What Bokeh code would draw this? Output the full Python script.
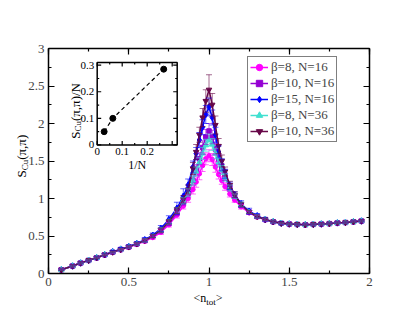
import math
from bokeh.plotting import figure
from bokeh.models import (ColumnDataSource, Whisker, TeeHead, Range1d, LinearAxis,
                          SingleIntervalTicker, Label, Legend, LegendItem,
                          CustomJSTickFormatter)
from bokeh.core.properties import value
from bokeh.embed import file_html
from bokeh.resources import INLINE

# ---------------- data ----------------
n_tot = [0.08, 0.15, 0.2, 0.25, 0.3, 0.35, 0.4, 0.45, 0.5, 0.55, 0.6, 0.65, 0.7, 0.75, 0.8,
         0.84, 0.87, 0.9, 0.92, 0.94, 0.96, 0.98, 1.0, 1.02, 1.04, 1.06, 1.08, 1.1, 1.13, 1.16, 1.2,
         1.25, 1.3, 1.35, 1.4, 1.45, 1.5, 1.55, 1.6, 1.65, 1.7, 1.75, 1.8, 1.85, 1.9, 1.95]

s_b8_n16 = [0.05, 0.10, 0.14, 0.175, 0.21, 0.245, 0.28, 0.315, 0.35, 0.39, 0.43, 0.48, 0.55, 0.65, 0.78,
            0.90, 1.00, 1.12, 1.22, 1.33, 1.44, 1.53, 1.57, 1.52, 1.42, 1.32, 1.24, 1.16, 1.06, 0.98, 0.89,
            0.81, 0.755, 0.715, 0.69, 0.67, 0.66, 0.655, 0.65, 0.655, 0.66, 0.665, 0.675, 0.68, 0.69, 0.70]
s_b10_n16 = [0.05, 0.10, 0.14, 0.175, 0.21, 0.25, 0.285, 0.32, 0.355, 0.395, 0.44, 0.50, 0.57, 0.67, 0.81,
             0.95, 1.07, 1.24, 1.38, 1.53, 1.68, 1.82, 1.90, 1.82, 1.66, 1.52, 1.40, 1.29, 1.14, 1.03, 0.91,
             0.82, 0.76, 0.72, 0.69, 0.67, 0.66, 0.655, 0.65, 0.655, 0.66, 0.665, 0.675, 0.68, 0.69, 0.70]
s_b15_n16 = [0.05, 0.10, 0.14, 0.175, 0.21, 0.25, 0.29, 0.325, 0.36, 0.40, 0.45, 0.51, 0.60, 0.72, 0.87,
             1.03, 1.18, 1.42, 1.60, 1.78, 1.95, 2.12, 2.22, 2.08, 1.85, 1.62, 1.45, 1.33, 1.17, 1.05, 0.93,
             0.83, 0.77, 0.72, 0.69, 0.67, 0.66, 0.655, 0.65, 0.655, 0.66, 0.665, 0.675, 0.68, 0.69, 0.70]
s_b8_n36 = [0.05, 0.10, 0.14, 0.175, 0.21, 0.25, 0.285, 0.32, 0.355, 0.395, 0.44, 0.50, 0.58, 0.69, 0.84,
            0.97, 1.08, 1.24, 1.36, 1.48, 1.60, 1.71, 1.78, 1.72, 1.60, 1.48, 1.38, 1.28, 1.14, 1.03, 0.92,
            0.82, 0.76, 0.72, 0.69, 0.67, 0.66, 0.655, 0.65, 0.655, 0.66, 0.665, 0.675, 0.68, 0.69, 0.70]
s_b10_n36 = [0.05, 0.10, 0.14, 0.175, 0.21, 0.25, 0.285, 0.32, 0.355, 0.395, 0.44, 0.50, 0.58, 0.69, 0.84,
             0.99, 1.12, 1.40, 1.62, 1.85, 2.08, 2.30, 2.45, 2.25, 1.98, 1.70, 1.50, 1.36, 1.18, 1.05, 0.92,
             0.82, 0.76, 0.72, 0.69, 0.67, 0.66, 0.655, 0.65, 0.655, 0.66, 0.665, 0.675, 0.68, 0.69, 0.70]

e_b8_n16 = [0.01, 0.01, 0.01, 0.01, 0.01, 0.01, 0.01, 0.01, 0.015, 0.015, 0.02, 0.02, 0.03, 0.03, 0.04,
            0.04, 0.05, 0.06, 0.07, 0.08, 0.08, 0.08, 0.08, 0.08, 0.07, 0.06, 0.05, 0.05, 0.04, 0.03, 0.03,
            0.02, 0.02, 0.015, 0.015, 0.01, 0.01, 0.01, 0.01, 0.01, 0.01, 0.01, 0.01, 0.01, 0.01, 0.01]
e_b10_n16 = [0.01, 0.01, 0.01, 0.01, 0.01, 0.01, 0.01, 0.01, 0.015, 0.015, 0.02, 0.02, 0.03, 0.03, 0.04,
             0.04, 0.05, 0.06, 0.07, 0.08, 0.09, 0.10, 0.10, 0.09, 0.08, 0.07, 0.06, 0.05, 0.04, 0.03, 0.03,
             0.02, 0.02, 0.015, 0.015, 0.01, 0.01, 0.01, 0.01, 0.01, 0.01, 0.01, 0.01, 0.01, 0.01, 0.01]
e_b15_n16 = [0.01, 0.01, 0.01, 0.01, 0.015, 0.015, 0.015, 0.02, 0.02, 0.02, 0.03, 0.03, 0.04, 0.05, 0.08,
             0.10, 0.08, 0.08, 0.08, 0.10, 0.10, 0.12, 0.12, 0.10, 0.10, 0.08, 0.08, 0.06, 0.05, 0.04, 0.04,
             0.04, 0.03, 0.02, 0.015, 0.015, 0.01, 0.01, 0.01, 0.01, 0.01, 0.01, 0.01, 0.01, 0.01, 0.01]
e_b8_n36 = [0.01, 0.01, 0.01, 0.01, 0.01, 0.01, 0.01, 0.01, 0.015, 0.015, 0.02, 0.02, 0.03, 0.03, 0.04,
            0.04, 0.05, 0.06, 0.06, 0.07, 0.08, 0.08, 0.08, 0.08, 0.07, 0.06, 0.06, 0.05, 0.04, 0.03, 0.03,
            0.02, 0.02, 0.015, 0.015, 0.01, 0.01, 0.01, 0.01, 0.01, 0.01, 0.01, 0.01, 0.01, 0.01, 0.01]
e_b10_n36 = [0.01, 0.01, 0.01, 0.01, 0.01, 0.01, 0.01, 0.01, 0.015, 0.015, 0.02, 0.02, 0.03, 0.03, 0.04,
             0.05, 0.06, 0.08, 0.10, 0.10, 0.12, 0.15, 0.20, 0.15, 0.12, 0.10, 0.08, 0.06, 0.05, 0.04, 0.03,
             0.02, 0.02, 0.015, 0.015, 0.01, 0.01, 0.01, 0.01, 0.01, 0.01, 0.01, 0.01, 0.01, 0.01, 0.01]

series_labels = ["β=8, N=16", "β=10, N=16", "β=15, N=16", "β=8, N=36", "β=10, N=36"]
series_values = [s_b8_n16, s_b10_n16, s_b15_n16, s_b8_n36, s_b10_n36]
series_errors = [e_b8_n16, e_b10_n16, e_b15_n16, e_b8_n36, e_b10_n36]

# inset: S(pi,pi)/N versus 1/N
inv_n = [0.0278, 0.0625, 0.266]
s_over_n = [0.05, 0.10, 0.285]
inset_x_ticks = [0, 0.1, 0.2, 0.3]
inset_x_minor = [0.05, 0.15, 0.25]
inset_x_labels = ["0", "0.1", "0.2"]
inset_y_ticks = [0, 0.1, 0.2, 0.3]
inset_y_minor = [0.05, 0.15, 0.25]
inset_y_labels = ["0", "0.1", "0.2", "0.3"]

# ---------------- styles ----------------
FONT = "Liberation Serif"
colors = ["#ff00ff", "#9400d3", "#0000ff", "#40e0d0", "#670748"]
markers = ["circle", "square", "diamond", "triangle", "inverted_triangle"]
msizes = [4.5, 4.5, 6.5, 5.5, 5.5]

X0, X1, Y0, Y1 = 0, 2, 0, 3      # axes box (data)
W, H = 399, 305                  # canvas
PX_X, PX_Y = 160.5, 75.0         # pixels per data unit
OX, OY = 48, 273                 # canvas position of data origin

p = figure(frame_width=W, frame_height=H,
           min_border_left=0, min_border_right=0, min_border_top=0, min_border_bottom=0,
           x_range=Range1d(-OX / PX_X, (W - OX) / PX_X),
           y_range=Range1d(-(H - OY) / PX_Y, OY / PX_Y),
           output_backend="svg", toolbar_location=None,
           x_axis_location=None, y_axis_location=None)
p.grid.visible = False
p.outline_line_color = None
p.background_fill_color = "white"
p.border_fill_color = "white"

fmt = CustomJSTickFormatter(code="return String(Math.round(tick*100)/100)")


def make_axis(show_labels, loc, bounds):
    ax = LinearAxis(ticker=SingleIntervalTicker(interval=0.5, num_minor_ticks=2),
                    formatter=fmt, fixed_location=loc, bounds=bounds,
                    major_tick_in=6, major_tick_out=0,
                    minor_tick_in=3, minor_tick_out=0,
                    axis_line_width=1.5, axis_line_color="black",
                    major_tick_line_width=1.2, minor_tick_line_width=1.2,
                    major_label_text_font=FONT, major_label_text_font_size="13px",
                    major_label_standoff=4)
    if not show_labels:
        ax.major_label_text_color = None
    return ax


p.add_layout(make_axis(True, Y0, (X0, X1)), "below")
p.add_layout(make_axis(True, X0, (Y0, Y1)), "left")
p.add_layout(make_axis(False, Y1, (X0, X1)), "above")
p.add_layout(make_axis(False, X1, (Y0, Y1)), "right")

items = []
for lab, ys, es, c, m, ms in zip(series_labels, series_values, series_errors, colors, markers, msizes):
    src = ColumnDataSource(dict(x=n_tot, y=ys,
                                upper=[a + b for a, b in zip(ys, es)],
                                lower=[a - b for a, b in zip(ys, es)]))
    w = Whisker(source=src, base="x", upper="upper", lower="lower", dimension="height",
                line_color=c, line_alpha=0.6, line_width=1,
                upper_head=TeeHead(size=6, line_color=c, line_alpha=0.6, line_width=1),
                lower_head=TeeHead(size=6, line_color=c, line_alpha=0.6, line_width=1),
                level="glyph")
    p.add_layout(w)
    r1 = p.line("x", "y", source=src, line_color=c, line_width=1.5)
    r2 = p.scatter("x", "y", source=src, marker=m, size=ms, fill_color=c, line_color=c)
    items.append(LegendItem(label=lab, renderers=[r1, r2]))

legend = Legend(items=items, location=(247, H - 142),
                label_text_font=FONT, label_text_font_size="13px",
                glyph_width=18, glyph_height=16, label_height=16, spacing=0,
                padding=2, margin=0, label_standoff=3,
                border_line_color="black", border_line_width=1.5,
                background_fill_color="white", background_fill_alpha=1)
p.add_layout(legend)

# ---------- main axis labels (screen units from canvas bottom-left) ----------
lab_kw = dict(text_font=FONT, text_color="black", text_baseline="alphabetic",
              text_align="left", x_units="screen", y_units="screen")
# y label: S_Cu(pi,pi)
p.add_layout(Label(x=21, y=H - 177, angle=math.pi / 2,
                   text="S", text_font_size="13px", **lab_kw))
p.add_layout(Label(x=24, y=H - 169.8, angle=math.pi / 2,
                   text="Cu", text_font_size="9px", **lab_kw))
p.add_layout(Label(x=21, y=H - 159.3, angle=math.pi / 2,
                   text="(π,π)", text_font_size="13px", **lab_kw))
# x label: <n_tot>
p.add_layout(Label(x=193, y=H - 297, text="<n", text_font_size="12px", **lab_kw))
p.add_layout(Label(x=205.8, y=H - 301, text="tot", text_font_size="9px", **lab_kw))
p.add_layout(Label(x=215.3, y=H - 297, text=">", text_font_size="12px", **lab_kw))

# ---------------- inset ----------------
ix = Range1d(0, 0.32)
iy = Range1d(0, 0.31)
ins = p.subplot(x_source=ix, y_source=iy,
                x_target=Range1d(0.3034, 0.8019), y_target=Range1d(1.714, 2.813))
ins.quad(left=[ix.start], right=[ix.end], bottom=[iy.start], top=[iy.end],
         fill_color="white", line_color="black", line_width=1.5)
tick_kw = dict(line_color="black", line_width=1.2, length_units="screen")
ins.ray(x=inset_x_ticks, y=[iy.start] * 4, length=4, angle=math.pi / 2, **tick_kw)
ins.ray(x=inset_x_minor, y=[iy.start] * 3, length=2, angle=math.pi / 2, **tick_kw)
ins.ray(x=inset_x_ticks, y=[iy.end] * 4, length=4, angle=-math.pi / 2, **tick_kw)
ins.ray(x=inset_x_minor, y=[iy.end] * 3, length=2, angle=-math.pi / 2, **tick_kw)
ins.ray(x=[ix.start] * 4, y=inset_y_ticks, length=4, angle=0, **tick_kw)
ins.ray(x=[ix.start] * 3, y=inset_y_minor, length=2, angle=0, **tick_kw)
ins.ray(x=[ix.end] * 4, y=inset_y_ticks, length=4, angle=math.pi, **tick_kw)
ins.ray(x=[ix.end] * 3, y=inset_y_minor, length=2, angle=math.pi, **tick_kw)
ins.text(x=inset_x_ticks[:3], y=[iy.start] * 3, text=inset_x_labels, y_offset=3,
         text_align="center", text_baseline="top",
         text_font=value(FONT), text_font_size="11px", text_color="black")
ins.text(x=[ix.start] * 4, y=inset_y_ticks, text=inset_y_labels, x_offset=-3,
         text_align="right", text_baseline="middle",
         text_font=value(FONT), text_font_size="11px", text_color="black")
ins.line(inv_n, s_over_n, line_dash="4 3", line_color="black", line_width=1.2)
ins.scatter(inv_n, s_over_n, marker="circle", size=6, fill_color="black", line_color="black")
ins.text(x=[(ix.start + ix.end) / 2], y=[iy.start], text=["1/N"], y_offset=13,
         text_align="center", text_baseline="top",
         text_font=value(FONT), text_font_size="12px", text_color="black")
yl_kw = dict(angle=math.pi / 2, text_align="left", text_baseline="alphabetic",
             text_font=value(FONT), text_color="black")
ymid = (iy.start + iy.end) / 2
ins.text(x=[ix.start], y=[ymid], text=["S"], x_offset=-22, y_offset=35,
         text_font_size="13px", **yl_kw)
ins.text(x=[ix.start], y=[ymid], text=["Cu"], x_offset=-19, y_offset=27.8,
         text_font_size="9px", **yl_kw)
ins.text(x=[ix.start], y=[ymid], text=["(π,π)/N"], x_offset=-22, y_offset=17.3,
         text_font_size="13px", **yl_kw)

open("out.html", "w").write(file_html(p, INLINE))
